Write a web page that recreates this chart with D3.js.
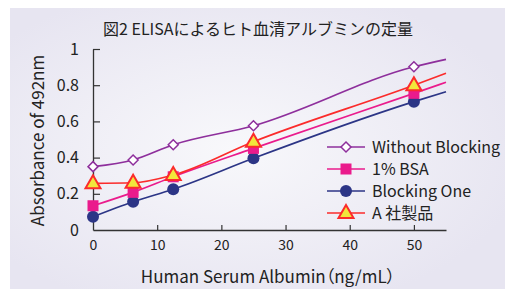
<!DOCTYPE html>
<html>
<head>
  <meta charset="utf-8">
  <script src="https://d3js.org/d3.v7.min.js"></script>
  <style>
    body { margin: 0; background: #fff; }
    svg { display: block; font-family: "Noto Sans CJK JP", sans-serif; }
  </style>
</head>
<body>
  <div id="chart"></div>
  <script>
// data
const concentrations = [0, 6.25, 12.5, 25, 50];
const lineEnd = 55;
const seriesNames = ["Without Blocking", "1% BSA", "Blocking One", "A 社製品"];
const withoutBlocking = [0.35, 0.387, 0.471, 0.576, 0.902];
const bsa = [0.134, 0.208, 0.294, 0.451, 0.755];
const blockingOne = [0.073, 0.156, 0.225, 0.396, 0.709];
const companyA = [0.258, 0.261, 0.304, 0.488, 0.80];
const endValues = [0.943, 0.816, 0.764, 0.866];
const xTicks = [0, 10, 20, 30, 40, 50];
const yTicks = [0, 0.2, 0.4, 0.6, 0.8, 1];

const W = 505, H = 289;
const svg = d3.select("#chart").append("svg")
  .attr("width", W)
  .attr("height", H);

// panel background
const defs = svg.append("defs");
const grad = defs.append("radialGradient")
  .attr("id", "bg")
  .attr("cx", "45%").attr("cy", "50%").attr("r", "60%");
grad.append("stop").attr("offset", "0%").attr("stop-color", "#f8f8fb");
grad.append("stop").attr("offset", "100%").attr("stop-color", "#e7e5f1");

svg.append("rect")
  .attr("x", 10).attr("y", 8)
  .attr("width", W - 10).attr("height", H - 8)
  .attr("fill", "url(#bg)");

const x = d3.scaleLinear().domain([0, 55]).range([93, 446]);
const y = d3.scaleLinear().domain([0, 1]).range([230, 49]);

// title
svg.append("text")
  .attr("x", 258).attr("y", 35)
  .attr("text-anchor", "middle")
  .attr("font-size", 16)
  .attr("fill", "#222")
  .text("図2 ELISAによるヒト血清アルブミンの定量");

// axes
const xAxis = svg.append("g")
  .attr("transform", `translate(0,${y(0)})`)
  .call(d3.axisBottom(x).tickValues(xTicks).tickSizeInner(-5).tickSizeOuter(0).tickPadding(10));
const yAxis = svg.append("g")
  .attr("transform", `translate(${x(0)},0)`)
  .call(d3.axisLeft(y).tickValues(yTicks).tickSizeInner(-7).tickSizeOuter(0).tickPadding(14)
    .tickFormat(d => d === 0 || d === 1 ? d : d3.format(".1f")(d)));

[xAxis, yAxis].forEach(g => {
  g.select(".domain").attr("stroke", "#333").attr("stroke-width", 1.3);
  g.selectAll(".tick line").attr("stroke", "#333").attr("stroke-width", 1.2);
  g.selectAll(".tick text").attr("fill", "#222").attr("font-family", "Noto Sans CJK JP");
});
xAxis.selectAll(".tick text").attr("font-size", 14);
yAxis.selectAll(".tick text").attr("font-size", 16);
xAxis.selectAll(".tick").filter(d => d === 0).select("line").remove();
yAxis.selectAll(".tick").filter(d => d === 0).select("line").remove();

// axis titles
svg.append("text")
  .attr("transform", `translate(44,${(49 + 230) / 2 + 1}) rotate(-90)`)
  .attr("text-anchor", "middle")
  .attr("font-size", 17)
  .attr("fill", "#222")
  .text("Absorbance of 492nm");

svg.append("text")
  .attr("x", 268).attr("y", 283)
  .attr("text-anchor", "middle")
  .attr("font-size", 17)
  .attr("fill", "#222")
  .style("font-feature-settings", "'palt'")
  .text("Human Serum Albumin（ng/mL）");

const series = [
  { name: seriesNames[0], values: withoutBlocking, end: endValues[0], color: "#8e2f9c", marker: "diamond" },
  { name: seriesNames[1], values: bsa, end: endValues[1], color: "#ea1b8c", marker: "square" },
  { name: seriesNames[2], values: blockingOne, end: endValues[2], color: "#2c3586", marker: "circle" },
  { name: seriesNames[3], values: companyA, end: endValues[3], color: "#fb2b2b", marker: "triangle" }
];

const line = d3.line()
  .x(d => x(d[0]))
  .y(d => y(d[1]))
  .curve(d3.curveMonotoneX);

function drawMarker(g, type, color, cx, cy) {
  if (type === "diamond") {
    g.append("path")
      .attr("d", `M${cx},${cy - 5}L${cx + 5},${cy}L${cx},${cy + 5}L${cx - 5},${cy}Z`)
      .attr("fill", "#fff").attr("stroke", color).attr("stroke-width", 1.5);
  } else if (type === "square") {
    g.append("rect")
      .attr("x", cx - 5.5).attr("y", cy - 5.5)
      .attr("width", 11).attr("height", 11)
      .attr("fill", color);
  } else if (type === "circle") {
    g.append("circle")
      .attr("cx", cx).attr("cy", cy).attr("r", 6)
      .attr("fill", color);
  } else {
    g.append("path")
      .attr("d", `M${cx},${cy - 8}L${cx + 7.5},${cy + 5}L${cx - 7.5},${cy + 5}Z`)
      .attr("fill", "#f2e63b").attr("stroke", color).attr("stroke-width", 2)
      .attr("stroke-linejoin", "miter");
  }
}

// draw lines in back-to-front order
[2, 1, 3, 0].forEach(i => {
  const s = series[i];
  const pts = concentrations.map((c, j) => [c, s.values[j]]).concat([[lineEnd, s.end]]);
  svg.append("path")
    .attr("d", line(pts))
    .attr("fill", "none")
    .attr("stroke", s.color)
    .attr("stroke-width", 1.7);
});
[2, 1, 3, 0].forEach(i => {
  const s = series[i];
  const g = svg.append("g");
  concentrations.forEach((c, j) => drawMarker(g, s.marker, s.color, x(c), y(s.values[j])));
});

// legend
const legend = svg.append("g");
series.forEach((s, i) => {
  const ly = 147 + i * 22;
  legend.append("line")
    .attr("x1", 327).attr("x2", 365)
    .attr("y1", ly).attr("y2", ly)
    .attr("stroke", s.color).attr("stroke-width", 1.7);
  drawMarker(legend, s.marker, s.color, 346, ly);
  legend.append("text")
    .attr("x", 372).attr("y", ly + 6)
    .attr("font-size", 16)
    .attr("fill", "#222")
    .text(s.name);
});
  </script>
</body>
</html>
